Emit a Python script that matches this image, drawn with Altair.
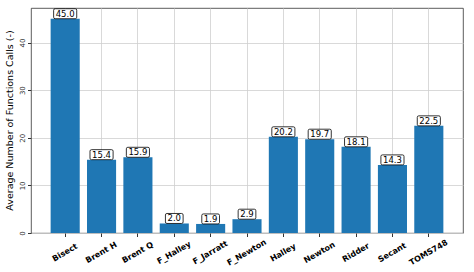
import altair as alt
import pandas as pd

methods = ["Bisect", "Brent H", "Brent Q", "F_Halley", "F_Jarratt", "F_Newton",
           "Halley", "Newton", "Ridder", "Secant", "TOMS748"]
avg_calls = [45.0, 15.4, 15.9, 2.0, 1.9, 2.9, 20.2, 19.7, 18.1, 14.3, 22.5]
y_ticks = [0, 10, 20, 30, 40]

df = pd.DataFrame({"method": methods, "calls": avg_calls})

FONT = "DejaVu Sans"

x = alt.X("method:N", sort=methods, title=None,
          scale=alt.Scale(paddingInner=0.2, paddingOuter=0.54),
          axis=alt.Axis(labelAngle=-30, labelFontWeight="bold", labelFontSize=8,
                        labelAlign="center", labelBaseline="middle", labelPadding=16,
                        labelColor="#000", tickSize=3.5, tickColor="#333",
                        grid=True, gridColor="#cfcfcf", gridWidth=0.8,
                        domain=False, labelOverlap=False))
y = alt.Y("calls:Q", title="Average Number of Functions Calls (-)",
          scale=alt.Scale(domain=[0, 47.25], nice=False, zero=True),
          axis=alt.Axis(values=y_ticks, labelAngle=-90, labelAlign="center",
                        labelBaseline="bottom", labelPadding=2, labelFontSize=7,
                        labelColor="#333", tickSize=3.5, tickColor="#333",
                        grid=True, gridColor="#cfcfcf", gridWidth=0.8,
                        domain=False, titleFontSize=9.5, titleFontWeight="normal",
                        titleColor="#000", titleX=-22, titleY=112,
                        titleBaseline="middle", titleAlign="center", titleAngle=-90))

base = alt.Chart(df).encode(x=x, y=y)

bars = base.mark_bar(color="#1f77b4")

boxes = base.transform_calculate(
    label="format(datum.calls, '.1f')"
).transform_calculate(
    hw="(length(datum.label) * 5.4 + 1.5) / 2"
).transform_calculate(
    path="'M' + (-datum.hw + 1.5) + ',-5H' + (datum.hw - 1.5) + 'Q' + datum.hw + ',-5 ' + datum.hw + ',-3.5V3.5Q' + datum.hw + ',5 ' + (datum.hw - 1.5) + ',5H' + (-datum.hw + 1.5) + 'Q' + (-datum.hw) + ',5 ' + (-datum.hw) + ',3.5V-3.5Q' + (-datum.hw) + ',-5 ' + (-datum.hw + 1.5) + ',-5Z'"
).mark_point(filled=False, fill="white", fillOpacity=1, stroke="#000",
             strokeWidth=0.8, opacity=1, size=4, yOffset=-5).encode(
    shape=alt.Shape("path:N", scale=None, legend=None)
)

texts = base.transform_calculate(
    label="format(datum.calls, '.1f')"
).mark_text(fontSize=8.5, baseline="middle", dy=-5, color="#000", font=FONT).encode(
    text="label:N"
)

chart = alt.layer(bars, boxes, texts).properties(
    width=432, height=225,
    autosize=alt.AutoSizeParams(type="none"),
    padding={"left": 31, "top": 8, "right": 11, "bottom": 39},
).configure(font=FONT).configure_view(stroke="#333", strokeWidth=0.8)

chart.save("out.html", embed_options={"renderer": "svg", "actions": False})
